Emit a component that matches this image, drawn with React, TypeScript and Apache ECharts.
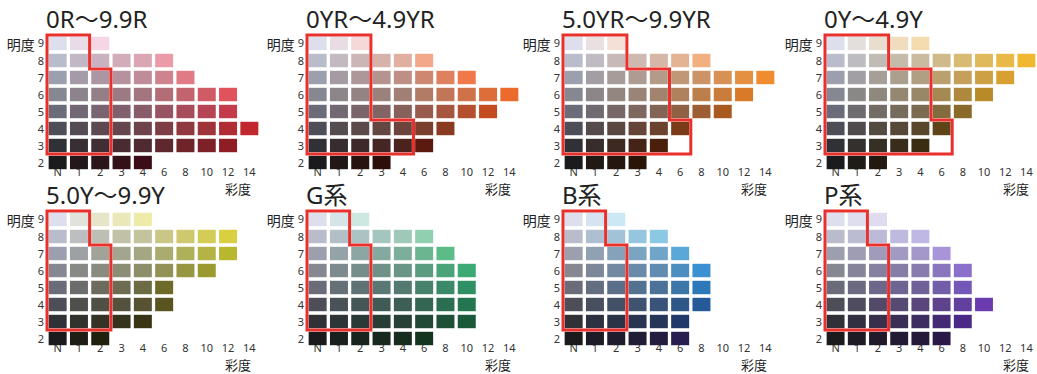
import React, { useEffect, useRef } from 'react';
import * as echarts from 'echarts';

// ---- data ----
const chromaLabels = ['N', '1', '2', '3', '4', '6', '8', '10', '12', '14'];
const chromaValues = [0, 1, 2, 3, 4, 6, 8, 10, 12, 14];
const valueLabels = ['2', '3', '4', '5', '6', '7', '8', '9'];
const valuesTopDown = [9, 8, 7, 6, 5, 4, 3, 2];

const panelTitles = ['0R〜9.9R', '0YR〜4.9YR', '5.0YR〜9.9YR', '0Y〜4.9Y', '5.0Y〜9.9Y', 'G系', 'B系', 'P系'];

// neutral (N) chip colour per value 9..2
const neutralGray = ['#dde0ec', '#b9bccb', '#9c9fad', '#858791', '#6b6c79', '#4d4e57', '#303137', '#1b1b1d'];

// number of chips per value row 9..2
const rowLengthsR = [3, 6, 7, 9, 9, 10, 9, 5];
const rowLengthsYR1 = [3, 6, 8, 10, 9, 7, 6, 4];
const rowLengthsYR2 = [3, 7, 10, 9, 8, 6, 5, 4];
const rowLengthsY1 = [5, 10, 9, 8, 7, 6, 5, 3];
const rowLengthsY2 = [5, 9, 9, 8, 6, 6, 5, 3];
const rowLengthsG = [3, 6, 7, 8, 8, 8, 8, 6];
const rowLengthsB = [3, 5, 6, 7, 7, 7, 6, 6];
const rowLengthsP = [3, 5, 6, 7, 7, 8, 7, 6];

// strongest chip colour per value row 9..2
const endColorsR = ['#f5d6e4', '#eb9ba7', '#e07a85', '#e0525c', '#c43c4c', '#c0282e', '#8e1d24', '#3c0c18'];
const endColorsYR1 = ['#f5d8d8', '#f3a88a', '#f0784a', '#ec6a2c', '#c44a20', '#8a3a20', '#5a1a10', '#2e0e08'];
const endColorsYR2 = ['#f5e0d8', '#f2b080', '#f08c30', '#d87a28', '#a85a20', '#7a3c18', '#4a200c', '#2a1408'];
const endColorsY1 = ['#f5dcae', '#f0b830', '#d8a030', '#b88a28', '#8a6a28', '#5e4418', '#3a2c10', '#221a10'];
const endColorsY2 = ['#eeeaa8', '#d8d040', '#b8b830', '#9a9a30', '#6e6a28', '#5a5420', '#383414', '#20200e'];
const endColorsG = ['#cce8e0', '#90d0b0', '#5cbc88', '#3caa74', '#2e9064', '#237650', '#195838', '#143620'];
const endColorsB = ['#cce8f4', '#8ac8e4', '#5aa8d8', '#3a90d0', '#2c78b8', '#245a98', '#20386a', '#281e50'];
const endColorsP = ['#e0dcf0', '#c0b8e4', '#a894d8', '#8a70cc', '#7458b8', '#6a3cb0', '#4a2888', '#2a1848'];

// red outline vertices: [chroma column boundary, value boundary]
const outlineA = [[-0.5, 9.5], [1.5, 9.5], [1.5, 7.5], [2.5, 7.5], [2.5, 2.5], [-0.5, 2.5]];
const outlineYR1 = [[-0.5, 9.5], [2.5, 9.5], [2.5, 4.5], [4.5, 4.5], [4.5, 2.5], [-0.5, 2.5]];
const outlineStep = [[-0.5, 9.5], [2.5, 9.5], [2.5, 7.5], [4.5, 7.5], [4.5, 4.5], [5.5, 4.5], [5.5, 2.5], [-0.5, 2.5]];

const panelRows = [rowLengthsR, rowLengthsYR1, rowLengthsYR2, rowLengthsY1, rowLengthsY2, rowLengthsG, rowLengthsB, rowLengthsP];
const panelEnds = [endColorsR, endColorsYR1, endColorsYR2, endColorsY1, endColorsY2, endColorsG, endColorsB, endColorsP];
const panelOutlines = [outlineA, outlineYR1, outlineStep, outlineStep, outlineA, outlineA, outlineA, outlineA];

// ---- helpers ----
function hexToRgb(h: string) {
  const n = parseInt(h.slice(1), 16);
  return [(n >> 16) & 255, (n >> 8) & 255, n & 255];
}
function mix(a: string, b: string, t: number) {
  const A = hexToRgb(a), B = hexToRgb(b);
  const c = A.map((v, i) => Math.round(v + (B[i] - v) * t));
  return `rgb(${c[0]},${c[1]},${c[2]})`;
}

const FONT = '"Noto Sans", "Noto Sans CJK JP", sans-serif';
const CJK = '"Noto Sans CJK JP", sans-serif';

export default function App() {
  const ref = useRef<HTMLDivElement>(null);
  useEffect(() => {
    if (!ref.current) return;
    const chart = echarts.init(ref.current, null, { renderer: 'svg' });
    const dx = [0, 260, 516, 778];
    const dy = [0, 176];
    const grids: any[] = [];
    const xAxes: any[] = [];
    const yAxes: any[] = [];
    const titles: any[] = [];
    const series: any[] = [];
    const graphics: any[] = [];
    for (let p = 0; p < 8; p++) {
      const ox = dx[p % 4];
      const oy = dy[Math.floor(p / 4)];
      grids.push({ left: 47 + ox, top: 35 + oy, width: 213, height: 136 });
      xAxes.push({
        type: 'category', gridIndex: p, data: chromaLabels,
        axisLine: { show: false }, axisTick: { show: false }, splitLine: { show: false },
        axisLabel: { fontSize: 11, lineHeight: 12, color: '#333', fontFamily: FONT, margin: -6, interval: 0 },
      });
      yAxes.push({
        type: 'category', gridIndex: p, data: valueLabels,
        axisLine: { show: false }, axisTick: { show: false }, splitLine: { show: false },
        axisLabel: {
          fontSize: 11, color: '#333', fontFamily: FONT, margin: 3, interval: 0,
          formatter: (v: string) => (v === '9' ? '{n|明度}{v|9}' : v),
          rich: {
            n: { fontSize: 14, color: '#222', fontFamily: CJK, padding: [0, 3, 0, 0] },
            v: { fontSize: 11, color: '#333', fontFamily: FONT, verticalAlign: 'top' },
          },
        },
      });
      titles.push({
        text: panelTitles[p], left: 46 + ox, top: 6 + oy,
        textStyle: { fontSize: 24, fontWeight: 'normal', color: '#222', fontFamily: FONT },
        padding: 0,
      });
      graphics.push({
        type: 'text', x: 225 + ox, y: 188.5 + oy, silent: true,
        style: { text: '彩度', fontSize: 13, lineHeight: 13, fontFamily: CJK, fill: '#222', verticalAlign: 'middle', align: 'left' },
      });
      const cells: { x: number; y: number; color: string }[] = [];
      const rows = panelRows[p];
      const ends = panelEnds[p];
      rows.forEach((len, r) => {
        const val = valuesTopDown[r];
        const maxC = chromaValues[len - 1];
        for (let i = 0; i < len; i++) {
          const t = maxC === 0 ? 0 : chromaValues[i] / maxC;
          cells.push({ x: i, y: val - 2, color: mix(neutralGray[r], ends[r], t) });
        }
      });
      series.push({
        type: 'custom', xAxisIndex: p, yAxisIndex: p, clip: false,
        data: cells.map((c) => [c.x, c.y]),
        renderItem: (params: any, api: any) => {
          const c = cells[params.dataIndex];
          const pt = api.coord([api.value(0), api.value(1)]);
          const s = api.size([1, 1]);
          const w = s[0] * 0.845, h = s[1] * 0.79;
          return {
            type: 'rect',
            shape: { x: pt[0] - w / 2, y: pt[1] - h / 2, width: w, height: h },
            style: { fill: c.color },
          };
        },
      });
      const outline = panelOutlines[p];
      series.push({
        type: 'custom', xAxisIndex: p, yAxisIndex: p, clip: false, z: 5,
        data: [[0, 0]],
        renderItem: (params: any, api: any) => {
          const base = api.coord([0, 0]);
          const s = api.size([1, 1]);
          const pts = outline.map(([cx, cv]) => [base[0] + cx * s[0], base[1] - (cv - 2) * s[1]]);
          return {
            type: 'polygon',
            shape: { points: pts },
            style: { fill: 'none', stroke: '#e8302c', lineWidth: 3, lineJoin: 'miter' },
          };
        },
      });
    }
    chart.setOption({
      animation: false,
      backgroundColor: '#ffffff',
      title: titles,
      grid: grids,
      xAxis: xAxes,
      yAxis: yAxes,
      graphic: graphics,
      series,
    });
    return () => chart.dispose();
  }, []);
  return <div ref={ref} style={{ position: 'fixed', left: 0, top: 0, width: 1037, height: 374 }} />;
}
